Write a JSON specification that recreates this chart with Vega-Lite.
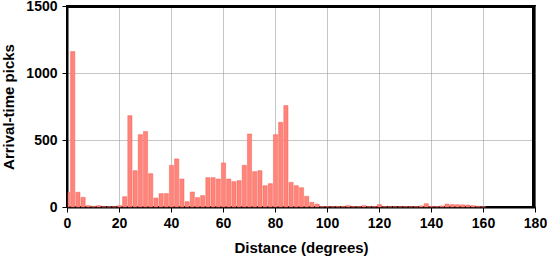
{
  "$schema": "https://vega.github.io/schema/vega-lite/v6.json",
  "width": 468,
  "height": 201,
  "autosize": {"type": "none"},
  "padding": {"left": 67, "top": 6, "right": 12, "bottom": 51},
  "background": "white",
  "config": {
    "view": {"stroke": "black", "strokeWidth": 2},
    "font": "Liberation Sans",
    "axis": {
      "labelFont": "Liberation Sans",
      "labelFontWeight": "bold",
      "labelFontSize": 14,
      "labelColor": "black",
      "titleFont": "Liberation Sans",
      "titleFontWeight": "bold",
      "titleFontSize": 15,
      "titleColor": "black",
      "domainColor": "black",
      "domainWidth": 2,
      "tickColor": "black",
      "tickWidth": 1,
      "tickSize": 5,
      "gridColor": "#a0a0a0",
      "gridWidth": 0.6,
      "gridOpacity": 1
    }
  },
  "data": {
    "values": [
      {"start": -1, "end": 1, "count": 110},
      {"start": 1, "end": 3, "count": 1160},
      {"start": 3, "end": 5, "count": 110},
      {"start": 5, "end": 7, "count": 72},
      {"start": 7, "end": 9, "count": 10},
      {"start": 9, "end": 11, "count": 5},
      {"start": 11, "end": 13, "count": 10},
      {"start": 13, "end": 15, "count": 2},
      {"start": 15, "end": 17, "count": 2},
      {"start": 17, "end": 19, "count": 2},
      {"start": 19, "end": 21, "count": 10},
      {"start": 21, "end": 23, "count": 77},
      {"start": 23, "end": 25, "count": 682},
      {"start": 25, "end": 27, "count": 271},
      {"start": 27, "end": 29, "count": 540},
      {"start": 29, "end": 31, "count": 563},
      {"start": 31, "end": 33, "count": 249},
      {"start": 33, "end": 35, "count": 67},
      {"start": 35, "end": 37, "count": 100},
      {"start": 37, "end": 39, "count": 100},
      {"start": 39, "end": 41, "count": 311},
      {"start": 41, "end": 43, "count": 359},
      {"start": 43, "end": 45, "count": 209},
      {"start": 45, "end": 47, "count": 40},
      {"start": 47, "end": 49, "count": 112},
      {"start": 49, "end": 51, "count": 70},
      {"start": 51, "end": 53, "count": 85},
      {"start": 53, "end": 55, "count": 219},
      {"start": 55, "end": 57, "count": 219},
      {"start": 57, "end": 59, "count": 209},
      {"start": 59, "end": 61, "count": 329},
      {"start": 61, "end": 63, "count": 209},
      {"start": 63, "end": 65, "count": 189},
      {"start": 65, "end": 67, "count": 197},
      {"start": 67, "end": 69, "count": 311},
      {"start": 69, "end": 71, "count": 545},
      {"start": 71, "end": 73, "count": 264},
      {"start": 73, "end": 75, "count": 271},
      {"start": 75, "end": 77, "count": 159},
      {"start": 77, "end": 79, "count": 174},
      {"start": 79, "end": 81, "count": 540},
      {"start": 81, "end": 83, "count": 632},
      {"start": 83, "end": 85, "count": 757},
      {"start": 85, "end": 87, "count": 184},
      {"start": 87, "end": 89, "count": 159},
      {"start": 89, "end": 91, "count": 144},
      {"start": 91, "end": 93, "count": 80},
      {"start": 93, "end": 95, "count": 35},
      {"start": 95, "end": 97, "count": 22},
      {"start": 97, "end": 99, "count": 4},
      {"start": 99, "end": 101, "count": 3},
      {"start": 101, "end": 103, "count": 3},
      {"start": 103, "end": 105, "count": 4},
      {"start": 105, "end": 107, "count": 5},
      {"start": 107, "end": 109, "count": 10},
      {"start": 109, "end": 111, "count": 3},
      {"start": 111, "end": 113, "count": 4},
      {"start": 113, "end": 115, "count": 10},
      {"start": 115, "end": 117, "count": 3},
      {"start": 117, "end": 119, "count": 4},
      {"start": 119, "end": 121, "count": 18},
      {"start": 121, "end": 123, "count": 3},
      {"start": 123, "end": 125, "count": 2},
      {"start": 125, "end": 127, "count": 2},
      {"start": 127, "end": 129, "count": 2},
      {"start": 129, "end": 131, "count": 3},
      {"start": 131, "end": 133, "count": 2},
      {"start": 133, "end": 135, "count": 3},
      {"start": 135, "end": 137, "count": 8},
      {"start": 137, "end": 139, "count": 25},
      {"start": 139, "end": 141, "count": 5},
      {"start": 141, "end": 143, "count": 4},
      {"start": 143, "end": 145, "count": 8},
      {"start": 145, "end": 147, "count": 22},
      {"start": 147, "end": 149, "count": 18},
      {"start": 149, "end": 151, "count": 17},
      {"start": 151, "end": 153, "count": 16},
      {"start": 153, "end": 155, "count": 15},
      {"start": 155, "end": 157, "count": 10},
      {"start": 157, "end": 159, "count": 5},
      {"start": 159, "end": 161, "count": 2}
    ]
  },
  "layer": [
    {
      "mark": {"type": "bar", "fill": "#ff8479", "stroke": "#f0625a", "strokeWidth": 0.5, "fillOpacity": 1},
      "encoding": {
        "x": {
          "field": "start",
          "type": "quantitative",
          "bin": {"binned": true},
          "scale": {"domain": [0, 180], "nice": false, "zero": false, "clamp": true},
          "axis": {
            "values": [0, 20, 40, 60, 80, 100, 120, 140, 160, 180],
            "format": "d",
            "grid": true,
            "title": "Distance (degrees)",
            "labelPadding": 4,
            "titlePadding": 10,
            "labelFlush": false
          }
        },
        "x2": {"field": "end"},
        "y": {
          "field": "count",
          "type": "quantitative",
          "scale": {"domain": [0, 1500], "nice": false},
          "axis": {
            "values": [0, 500, 1000, 1500],
            "format": "d",
            "grid": true,
            "title": "Arrival-time picks",
            "labelPadding": 5,
            "titlePadding": 9,
            "labelFlush": false
          }
        }
      }
    },
    {
      "mark": {"type": "rule", "color": "black", "strokeWidth": 2},
      "encoding": {"y": {"datum": 1495, "type": "quantitative"}}
    },
    {
      "mark": {"type": "rule", "color": "black", "strokeWidth": 2},
      "encoding": {"x": {"datum": 179.6, "type": "quantitative"}}
    }
  ]
}
